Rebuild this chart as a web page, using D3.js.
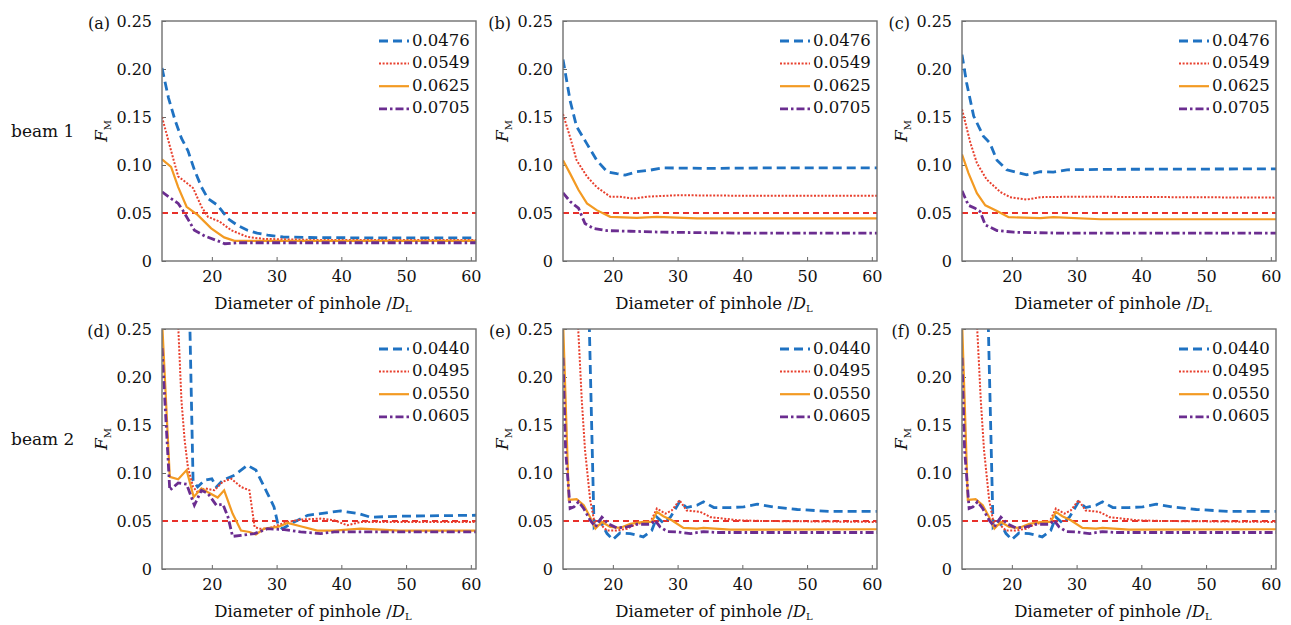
<!DOCTYPE html>
<html>
<head>
<meta charset="utf-8">
<script src="https://cdn.jsdelivr.net/npm/d3@7"></script>
<style>
  body { margin: 0; background: #fff; }
  text { font-family: "DejaVu Serif", serif; fill: #111; }
</style>
</head>
<body>
<div id="chart"></div>
<script>
// legend labels per row
var beam1Labels = ["0.0476", "0.0549", "0.0625", "0.0705"];
var beam2Labels = ["0.0440", "0.0495", "0.0550", "0.0605"];
var rowLabels = ["beam 1", "beam 2"];
var panelLabels = ["(a)", "(b)", "(c)", "(d)", "(e)", "(f)"];
var xTicks = [20, 30, 40, 50, 60];
var yTicks = [0, 0.05, 0.10, 0.15, 0.20, 0.25];
var yTickLabels = ["0", "0.05", "0.10", "0.15", "0.20", "0.25"];
var threshold = 0.05;

// [diameter, F_M] pairs
var a1 = [[12.3,0.201],[13.3,0.17],[14.3,0.147],[15.3,0.128],[16.3,0.115],[17.3,0.095],[18.4,0.077],[19.4,0.065],[20.9,0.058],[22.5,0.044],[24,0.037],[25.5,0.032],[27,0.029],[28.6,0.027],[31,0.025],[35,0.0245],[45,0.024],[60.8,0.024]];
var a2 = [[12.3,0.150],[13.7,0.115],[14.8,0.088],[16,0.082],[17.1,0.076],[18.4,0.0565],[19.4,0.046],[21.2,0.041],[23,0.032],[25.5,0.025],[28,0.023],[35,0.022],[60.8,0.022]];
var a3 = [[12.3,0.106],[13.7,0.098],[14.8,0.077],[16.1,0.0565],[17.8,0.048],[19.9,0.034],[21.9,0.0246],[23.5,0.021],[30,0.021],[60.8,0.021]];
var a4 = [[12.3,0.072],[13.5,0.066],[14.8,0.060],[15.5,0.053],[17.3,0.032],[18.9,0.026],[20.9,0.021],[22,0.018],[24,0.019],[60.8,0.019]];

var b1 = [[12.3,0.210],[13.4,0.167],[14.4,0.140],[16,0.122],[17.5,0.105],[19.1,0.093],[20.6,0.091],[21.9,0.0895],[23.7,0.093],[25.8,0.0947],[27.8,0.097],[35,0.0965],[45,0.097],[60.8,0.097]];
var b2 = [[12.3,0.153],[13.4,0.129],[14.4,0.105],[16,0.088],[17.5,0.077],[19.6,0.067],[21.1,0.067],[23.2,0.065],[25.3,0.067],[29.9,0.0685],[40,0.068],[60.8,0.068]];
var b3 = [[12.3,0.105],[13.4,0.091],[14.7,0.074],[16,0.060],[17.5,0.053],[19.6,0.046],[23.7,0.045],[26.8,0.046],[33,0.0445],[60.8,0.0445]];
var b4 = [[12.3,0.071],[13.4,0.062],[14.7,0.055],[15.7,0.039],[17,0.034],[19.1,0.0316],[22.7,0.031],[27.8,0.030],[40,0.029],[60.8,0.029]];

var c1 = [[12.3,0.215],[13,0.186],[14.1,0.151],[15.6,0.130],[16.6,0.123],[17.7,0.105],[19.2,0.095],[22.3,0.0898],[24.4,0.093],[26.4,0.0926],[28.5,0.095],[35,0.0955],[60.8,0.096]];
var c2 = [[12.3,0.158],[13.6,0.123],[14.6,0.102],[16.1,0.085],[18.2,0.072],[19.7,0.0665],[22.3,0.064],[24.4,0.0665],[30,0.067],[60.8,0.066]];
var c3 = [[12.3,0.111],[13.3,0.0916],[14.6,0.0707],[15.9,0.058],[17.7,0.052],[19.5,0.0456],[24.4,0.0446],[26.4,0.0456],[33.7,0.0435],[60.8,0.0435]];
var c4 = [[12.3,0.073],[13.3,0.058],[14.3,0.055],[15.1,0.0515],[15.9,0.0376],[17.7,0.0317],[20.3,0.030],[27.5,0.029],[60.8,0.029]];

var d1 = [[16.4,0.32],[17.1,0.092],[17.8,0.0855],[18.9,0.0925],[20,0.094],[20.7,0.0855],[21.7,0.0925],[23.5,0.0977],[25.5,0.108],[26.8,0.103],[28.6,0.0786],[29.6,0.0647],[30.2,0.047],[30.9,0.042],[32.7,0.049],[34.8,0.056],[36.8,0.0577],[39.9,0.0605],[42.5,0.058],[44.5,0.054],[49.1,0.055],[60.8,0.056]];
var d2 = [[14.7,0.27],[15.3,0.176],[15.8,0.134],[16.3,0.106],[17.1,0.0855],[17.8,0.080],[18.9,0.084],[20.4,0.082],[21.7,0.091],[23,0.094],[24.5,0.0855],[25.8,0.082],[26.6,0.0438],[27.3,0.042],[28.6,0.042],[31.7,0.049],[33.7,0.0515],[36.8,0.0525],[38.9,0.0508],[40.9,0.0455],[43,0.049],[60.8,0.049]];
var d3s = [[12.3,0.26],[13.5,0.096],[14.8,0.0935],[16.1,0.103],[17.2,0.075],[18.4,0.084],[19.4,0.080],[20.9,0.0744],[21.9,0.082],[23.2,0.0577],[24.5,0.040],[25.8,0.0386],[26.8,0.036],[28.1,0.042],[30.2,0.0438],[31.7,0.048],[33.7,0.0445],[36.3,0.040],[38.9,0.040],[43,0.042],[49,0.040],[60.8,0.040]];
var d4 = [[12.3,0.23],[13.5,0.082],[14.8,0.0897],[16.1,0.0883],[17.3,0.0664],[18.4,0.082],[19.4,0.0786],[20.7,0.0664],[21.7,0.0675],[22.5,0.054],[23.2,0.034],[24.5,0.035],[26.6,0.0369],[28.6,0.042],[31.2,0.041],[33.7,0.0386],[36.8,0.0369],[38.9,0.0386],[44,0.0386],[60.8,0.0386]];

var e1 = [[16.2,0.30],[17.1,0.0438],[18,0.0508],[19.1,0.0369],[20,0.0306],[21.1,0.0376],[22.7,0.0369],[24.7,0.0334],[26,0.040],[26.8,0.054],[27.8,0.048],[28.9,0.054],[30.3,0.070],[31.4,0.064],[33,0.0664],[34,0.070],[35.6,0.064],[38.1,0.064],[40.2,0.0647],[42.3,0.0675],[44.8,0.0647],[48.5,0.062],[53.6,0.060],[60.8,0.060]];
var e2 = [[14.5,0.27],[14.8,0.23],[15.2,0.176],[15.7,0.124],[16.5,0.0716],[17.3,0.0438],[18,0.047],[19.1,0.040],[20.6,0.040],[22.2,0.042],[23.7,0.047],[25.8,0.049],[26.8,0.063],[28.1,0.0577],[29.1,0.061],[30.3,0.0716],[31.4,0.061],[33.5,0.0595],[35.1,0.054],[37.1,0.0525],[39.2,0.0508],[43.3,0.050],[60.8,0.049]];
var e3 = [[12.3,0.26],[13.2,0.072],[13.7,0.0723],[14.4,0.0727],[15.5,0.0664],[16.5,0.054],[17.3,0.042],[18.3,0.049],[19.6,0.0438],[21.1,0.0428],[22.7,0.047],[24.7,0.049],[26,0.049],[26.8,0.0595],[27.8,0.055],[29.1,0.0508],[30.9,0.0428],[33,0.042],[34,0.0428],[38.1,0.041],[60.8,0.0414]];
var e4 = [[12.3,0.22],[12.7,0.124],[13.4,0.063],[14,0.0647],[14.7,0.070],[15.5,0.063],[16.5,0.0508],[17.3,0.0438],[18.3,0.054],[19.3,0.047],[20.6,0.0428],[22.2,0.0438],[23.7,0.0466],[25.8,0.0466],[26.5,0.0508],[27.3,0.0438],[28.4,0.039],[29.9,0.0386],[32,0.0369],[34,0.039],[36.1,0.038],[60.8,0.038]];

// panel (f) reads the same as (e)
var f1 = e1, f2 = e2, f3 = e3, f4 = e4;

var panels = [
  { label: panelLabels[0], names: beam1Labels, series: [a1, a2, a3, a4] },
  { label: panelLabels[1], names: beam1Labels, series: [b1, b2, b3, b4] },
  { label: panelLabels[2], names: beam1Labels, series: [c1, c2, c3, c4] },
  { label: panelLabels[3], names: beam2Labels, series: [d1, d2, d3s, d4] },
  { label: panelLabels[4], names: beam2Labels, series: [e1, e2, e3, e4] },
  { label: panelLabels[5], names: beam2Labels, series: [f1, f2, f3, f4] }
];

var styles = [
  { color: "#1f72c2", width: 2.8, dash: "9,5" },
  { color: "#e8402e", width: 2, dash: "2,1.6" },
  { color: "#f39a22", width: 2.2, dash: null },
  { color: "#6b2d90", width: 2.8, dash: "8,3,2.5,3" }
];

var W = 1291, H = 625;
var colLeft = [162, 563, 962],
  rowTop = [21, 329],
  pw = 314,
  ph = 240;

var svg = d3.select("#chart").append("svg")
  .attr("width", W)
  .attr("height", H);

// row titles
rowLabels.forEach(function(t, r) {
  svg.append("text")
    .attr("x", 11)
    .attr("y", rowTop[r] + ph / 2 - 9)
    .attr("dominant-baseline", "middle")
    .style("font-size", "17px")
    .text(t);
});

panels.forEach(function(p, i) {
  var col = i % 3, row = Math.floor(i / 3);
  var x0 = colLeft[col], y0 = rowTop[row];

  var x = d3.scaleLinear().domain([12.3, 60.8]).range([0, pw]);
  var y = d3.scaleLinear().domain([0, 0.25]).range([ph, 0]);

  var g = svg.append("g")
    .attr("transform", "translate(" + x0 + "," + y0 + ")");

  g.append("clipPath")
    .attr("id", "clip" + i)
    .append("rect")
    .attr("width", pw)
    .attr("height", ph);

  // axes, ticks pointing inward
  var xAxis = g.append("g")
    .attr("transform", "translate(0," + ph + ")")
    .call(d3.axisBottom(x).tickValues(xTicks).tickSizeInner(-4).tickSizeOuter(0).tickPadding(10));
  var yAxis = g.append("g")
    .call(d3.axisLeft(y).tickValues(yTicks).tickSizeInner(-4).tickSizeOuter(0).tickPadding(10)
      .tickFormat(function(d, k) { return yTickLabels[k]; }));

  [xAxis, yAxis].forEach(function(ax) {
    ax.select(".domain").remove();
    ax.selectAll("line").attr("stroke", "#666").attr("stroke-width", 1);
    ax.selectAll("text")
      .style("font-family", "DejaVu Serif")
      .style("font-size", "16px")
      .attr("fill", "#111");
  });

  var lines = g.append("g").attr("clip-path", "url(#clip" + i + ")");

  // 0.05 reference line
  lines.append("line")
    .attr("x1", 0)
    .attr("x2", pw)
    .attr("y1", y(threshold))
    .attr("y2", y(threshold))
    .attr("stroke", "#e8302a")
    .attr("stroke-width", 1.8)
    .attr("stroke-dasharray", "6,4");

  var line = d3.line()
    .x(function(d) { return x(d[0]); })
    .y(function(d) { return y(d[1]); });

  p.series.forEach(function(s, k) {
    lines.append("path")
      .datum(s)
      .attr("d", line)
      .attr("fill", "none")
      .attr("stroke", styles[k].color)
      .attr("stroke-width", styles[k].width)
      .attr("stroke-dasharray", styles[k].dash);
  });

  // frame
  g.append("rect")
    .attr("width", pw)
    .attr("height", ph)
    .attr("fill", "none")
    .attr("stroke", "#707070")
    .attr("stroke-width", 1.4);

  // legend
  p.names.forEach(function(n, k) {
    var ly = 20 + k * 22.6;
    g.append("line")
      .attr("x1", pw - 97)
      .attr("x2", pw - 67)
      .attr("y1", ly)
      .attr("y2", ly)
      .attr("stroke", styles[k].color)
      .attr("stroke-width", styles[k].width)
      .attr("stroke-dasharray", styles[k].dash);
    g.append("text")
      .attr("x", pw - 64)
      .attr("y", ly)
      .attr("dominant-baseline", "middle")
      .style("font-size", "16.5px")
      .text(n);
  });

  // panel tag
  g.append("text")
    .attr("x", -52)
    .attr("y", 3)
    .attr("text-anchor", "end")
    .attr("dominant-baseline", "middle")
    .style("font-size", "16px")
    .text(p.label);

  // y label F_M
  var yl = g.append("text")
    .attr("transform", "translate(" + (-55) + "," + (ph / 2 - 10) + ") rotate(-90)")
    .attr("text-anchor", "middle")
    .style("font-size", "17px");
  yl.append("tspan").style("font-style", "italic").text("F");
  yl.append("tspan").attr("dy", 4).style("font-size", "10px").text("M");

  // x label
  var xl = g.append("text")
    .attr("x", pw / 2 - 6)
    .attr("y", ph + 48)
    .attr("text-anchor", "middle")
    .style("font-size", "16.5px");
  xl.append("tspan").text("Diameter of pinhole /");
  xl.append("tspan").style("font-style", "italic").text("D");
  xl.append("tspan").attr("dy", 3).style("font-size", "10px").text("L");
});
</script>
</body>
</html>
